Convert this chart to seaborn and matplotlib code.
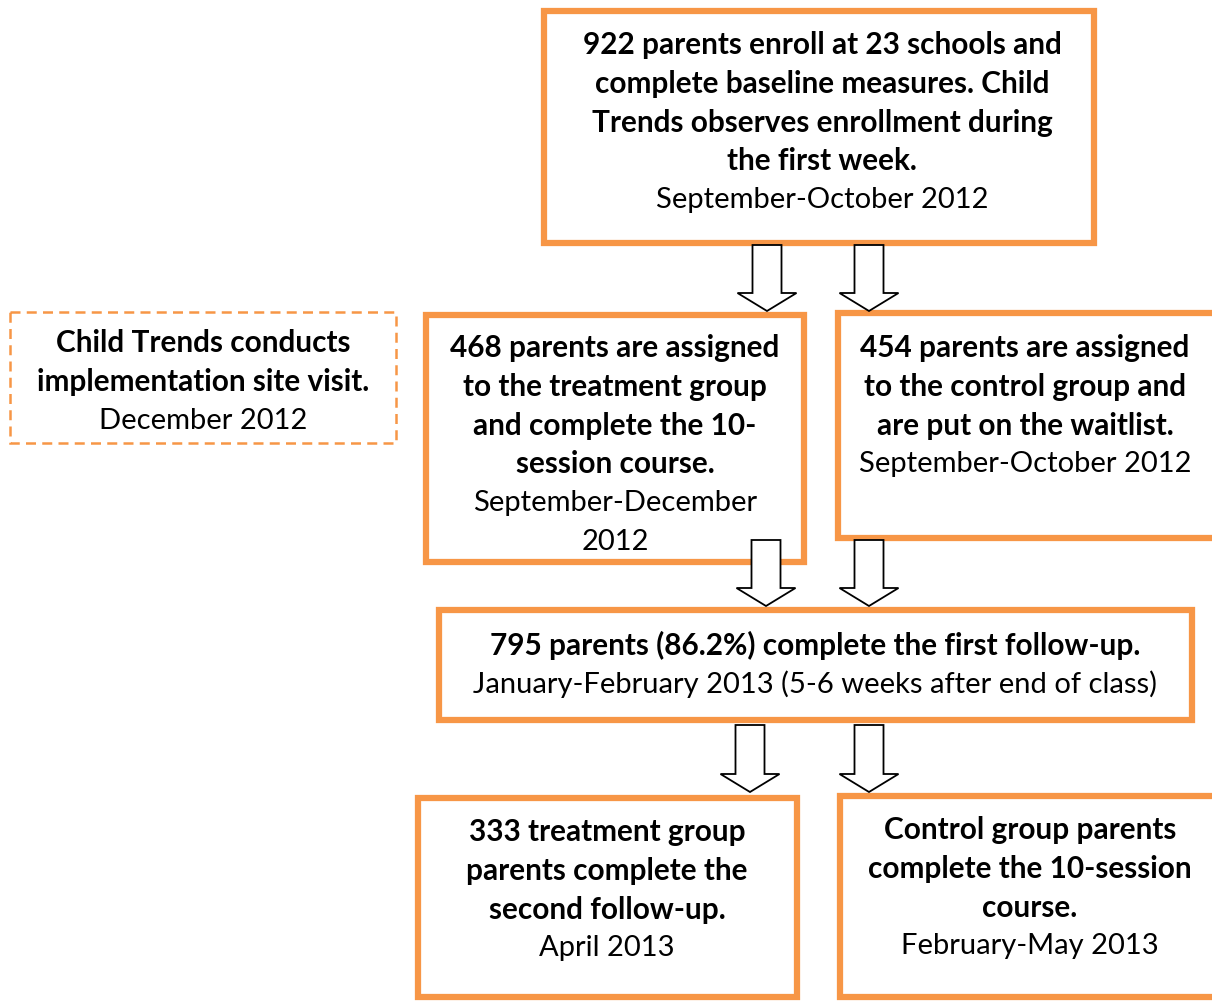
import matplotlib
matplotlib.use("Agg")
import matplotlib.pyplot as plt
import seaborn as sns
from matplotlib.patches import Rectangle, FancyArrow

sns.set_theme(style="white")
plt.rcParams['font.family'] = ['Lato', 'DejaVu Sans']

orange = "#F79646"

# text of each box: (bold lines, plain lines)
top_bold = ["922 parents enroll at 23 schools and", "complete baseline measures. Child",
            "Trends observes enrollment during", "the first week."]
top_plain = ["September-October 2012"]
visit_bold = ["Child Trends conducts", "implementation site visit."]
visit_plain = ["December 2012"]
treat_bold = ["468 parents are assigned", "to the treatment group",
              "and complete the 10-", "session course."]
treat_plain = ["September-December", "2012"]
control_bold = ["454 parents are assigned", "to the control group and",
                "are put on the waitlist."]
control_plain = ["September-October 2012"]
follow_bold = ["795 parents (86.2%) complete the first follow-up."]
follow_plain = ["January-February 2013 (5-6 weeks after end of class)"]
second_bold = ["333 treatment group", "parents complete the", "second follow-up."]
second_plain = ["April 2013"]
course_bold = ["Control group parents", "complete the 10-session", "course."]
course_plain = ["February-May 2013"]

# layout in pixels: left, top, right, bottom, text centre x, first line y
boxes = [
    (top_bold, top_plain, 544, 12, 1094, 244, 822, 45, "solid"),
    (visit_bold, visit_plain, 10, 313, 396, 444, 203, 343, "dashed"),
    (treat_bold, treat_plain, 426, 316, 804, 563, 615, 348, "solid"),
    (control_bold, control_plain, 838, 314, 1230, 539, 1025, 348, "solid"),
    (follow_bold, follow_plain, 439, 611, 1192, 721, 815, 645, "solid"),
    (second_bold, second_plain, 418, 799, 797, 998, 607, 832, "solid"),
    (course_bold, course_plain, 840, 797, 1230, 998, 1030, 830, "solid"),
]

# arrows: centre x, start y, tip y
arrows = [(767, 246, 312), (869, 246, 312),
          (766, 541, 607), (869, 541, 607),
          (750, 726, 793), (869, 726, 793)]

W, H = 1212, 1003
fig = plt.figure(figsize=(W / 100, H / 100), dpi=100)
ax = fig.add_axes([0, 0, 1, 1])
ax.set_xlim(0, W)
ax.set_ylim(H, 0)
ax.axis("off")

line_h = 38.8
for bold, plain, x0, y0, x1, y1, cx, ty, style in boxes:
    if style == "dashed":
        r = Rectangle((x0, y0), x1 - x0, y1 - y0, fill=False, edgecolor=orange,
                      lw=1.8, linestyle=(0, (4, 2.5)))
    else:
        r = Rectangle((x0, y0), x1 - x0, y1 - y0, facecolor="white",
                      edgecolor=orange, lw=4.5)
    ax.add_patch(r)
    lines = [(s, "bold", 21.4) for s in bold] + [(s, "normal", 21) for s in plain]
    for i, (s, wt, fs) in enumerate(lines):
        ax.text(cx, ty + i * line_h, s, ha="center", va="center",
                fontsize=fs, fontweight=wt, color="black")

for cx, ys, ye in arrows:
    ax.add_patch(FancyArrow(cx, ys, 0, ye - ys, width=29, head_width=59,
                            head_length=18, length_includes_head=True,
                            facecolor="white", edgecolor="black", lw=1.3,
                            zorder=3))

fig.savefig("out.png", dpi=100)
